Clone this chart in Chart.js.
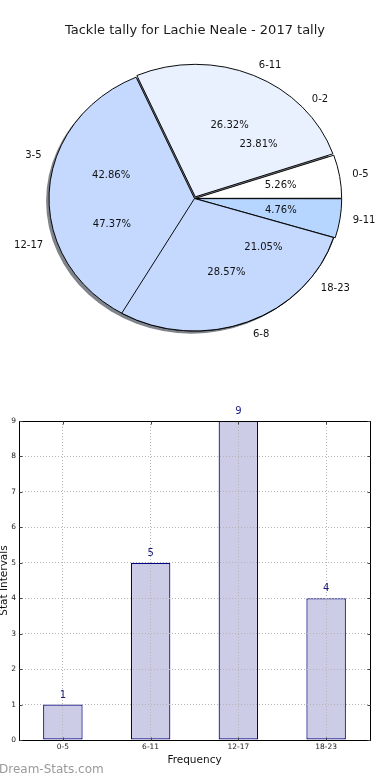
<!DOCTYPE html>
<html>
<head>
<meta charset="utf-8">
<script src="https://cdn.jsdelivr.net/npm/chart.js@4.4.1/dist/chart.umd.min.js"></script>
<style>
html,body{margin:0;padding:0;background:#fff;}
body{width:390px;height:780px;position:relative;overflow:hidden;font-family:"DejaVu Sans",sans-serif;}
canvas{position:absolute;left:0;}
#pie1,#pie2{top:0;}
#bar{top:400px;}
#title{position:absolute;left:0;top:21px;width:390px;text-align:center;font-size:13px;color:#1a1a1a;line-height:18px;}
#wm{position:absolute;left:-1px;top:762px;font-size:12px;color:#9a9a9a;line-height:14px;white-space:nowrap;}
</style>
</head>
<body>
<canvas id="pie1" width="390" height="400"></canvas>
<canvas id="pie2" width="390" height="400"></canvas>
<canvas id="bar" width="390" height="380"></canvas>
<div id="title">Tackle tally for Lachie Neale - 2017 tally</div>
<div id="wm">Dream-Stats.com</div>
<script>
// ---- data ----
const tallyCategories = ['0-5', '6-11', '12-17', '18-23'];
const tallyValues = [1, 5, 9, 4];
const pairCategories = ['0-2', '3-5', '6-8', '9-11'];
const pairValues = [5, 9, 6, 1];
const yTickValues = [0, 1, 2, 3, 4, 5, 6, 7, 8, 9];

// ---- styles ----
const FONT = '"DejaVu Sans"';
const tallyColors = ['#ffffff', '#e9f1ff', '#c5d9ff', '#c5d9ff'];
const pairColors = ['rgba(0,0,0,0)', 'rgba(0,0,0,0)', '#c5d9ff', '#b6d5ff'];
const tallyBorders = [1, 1, 1, 1];
const pairBorders = [0, 0, 1, 1];
const tallyOffsets = [4, 8, 0, 0];
const pairOffsets = [0, 0, 0, 4];
const SQUASH = 132.5 / 145.5;
const PIE_R = 145.5;

function drawPieLabels(ctx, meta, rl, rv, total) {
  ctx.save();
  ctx.font = '10px ' + FONT;
  ctx.fillStyle = '#111';
  ctx.textBaseline = 'middle';
  meta.data.forEach((arc, i) => {
    const mid = (arc.startAngle + arc.endAngle) / 2;
    const R = arc.outerRadius;
    const c = Math.cos(mid), s = Math.sin(mid);
    ctx.textAlign = c > 0 ? 'left' : 'right';
    ctx.fillText(rl[i], arc.x + 1.1 * R * c, arc.y + 1.1 * R * s * SQUASH);
    ctx.textAlign = 'center';
    ctx.fillText((rv[i] / total * 100).toFixed(2) + '%', arc.x + 0.6 * R * c, arc.y + 0.6 * R * s * SQUASH);
  });
  ctx.restore();
}

const pieLabelSets = [];

function makePie(id, labels, values, colors, borders, offsets, withShadow, drawAllLabels) {
  const rl = labels.slice().reverse();
  const rv = values.slice().reverse();
  const rc = colors.slice().reverse();
  const rb = borders.slice().reverse();
  const ro = offsets.slice().reverse();
  const total = values.reduce((a, b) => a + b, 0);
  const entry = { chart: null, rl, rv, total };
  pieLabelSets.push(entry);
  const plugin = {
    id: 'ellipse_' + id,
    beforeDatasetsDraw(chart) {
      const ctx = chart.ctx;
      const el = chart.getDatasetMeta(0).data[0];
      const cx = el.x, cy = el.y, R = el.outerRadius;
      ctx.save();
      ctx.translate(cx, cy);
      ctx.scale(1, SQUASH);
      ctx.translate(-cx, -cy);
      if (withShadow) {
        ctx.beginPath();
        ctx.arc(cx - 2.9, cy + 2.9, R, 0, Math.PI * 2);
        ctx.fillStyle = 'rgba(59,65,77,0.65)';
        ctx.fill();
      }
    },
    afterDatasetsDraw(chart) {
      chart.ctx.restore();
      if (drawAllLabels) {
        pieLabelSets.forEach(e => {
          const c = e.chart || chart;
          drawPieLabels(chart.ctx, c.getDatasetMeta(0), e.rl, e.rv, e.total);
        });
      }
    }
  };
  entry.chart = new Chart(document.getElementById(id), {
    type: 'pie',
    data: {
      labels: rl,
      datasets: [{
        data: rv,
        backgroundColor: rc,
        borderColor: '#000000',
        borderWidth: rb,
        offset: ro
      }]
    },
    options: {
      responsive: false,
      animation: false,
      events: [],
      rotation: 90,
      radius: PIE_R,
      layout: { padding: { left: 0, right: 1, top: 0, bottom: 3 } },
      plugins: { legend: { display: false }, tooltip: { enabled: false }, title: { display: false } }
    },
    plugins: [plugin]
  });
  return entry.chart;
}

makePie('pie1', tallyCategories, tallyValues, tallyColors, tallyBorders, tallyOffsets, true, false);
makePie('pie2', pairCategories, pairValues, pairColors, pairBorders, pairOffsets, false, true);

// ---- bar chart ----
const barExtras = {
  id: 'barExtras',
  afterDraw(chart) {
    const { ctx, chartArea: a } = chart;
    const xs = chart.scales.x, ys = chart.scales.y;
    ctx.save();
    ctx.strokeStyle = '#000';
    ctx.lineWidth = 1;
    const L = Math.round(a.left) + 0.5, R = Math.round(a.right) + 0.5;
    const T = Math.round(a.top) + 0.5, B = Math.round(a.bottom) + 0.5;
    ctx.strokeRect(L, T, R - L, B - T);
    // inward tick marks
    ctx.strokeStyle = '#444';
    ctx.beginPath();
    yTickValues.forEach(v => {
      const y = Math.round(ys.getPixelForValue(v)) + 0.5;
      ctx.moveTo(L, y); ctx.lineTo(L + 3, y);
      ctx.moveTo(R, y); ctx.lineTo(R - 3, y);
    });
    tallyCategories.forEach((c, i) => {
      const x = Math.round(xs.getPixelForValue(i)) + 0.5;
      ctx.moveTo(x, B); ctx.lineTo(x, B - 3);
      ctx.moveTo(x, T); ctx.lineTo(x, T + 3);
    });
    ctx.stroke();
    // value labels
    const meta = chart.getDatasetMeta(0);
    ctx.font = '10px ' + FONT;
    ctx.fillStyle = '#1a1a80';
    ctx.textAlign = 'center';
    ctx.textBaseline = 'middle';
    meta.data.forEach((bar, i) => {
      ctx.fillText(String(tallyValues[i]), bar.x, bar.y - 9.5);
    });
    ctx.restore();
  }
};

new Chart(document.getElementById('bar'), {
  type: 'bar',
  data: {
    labels: tallyCategories,
    datasets: [{
      data: tallyValues,
      backgroundColor: '#ccccE6',
      borderColor: '#000080',
      borderWidth: 1.2,
      borderSkipped: false,
      barPercentage: 0.45,
      categoryPercentage: 1.0
    }]
  },
  options: {
    responsive: false,
    animation: false,
    events: [],
    layout: { padding: { left: 0, right: 20, top: 21, bottom: 0 } },
    plugins: { legend: { display: false }, tooltip: { enabled: false } },
    scales: {
      x: {
        offset: true,
        grid: { display: true, offset: false, color: '#b4b4b4', lineWidth: 1, drawTicks: false, z: 1 },
        border: { display: false, dash: [1, 2] },
        ticks: { color: '#222', font: { family: FONT, size: 7.5 }, padding: 3, maxRotation: 0, autoSkip: false },
        title: { display: true, text: 'Frequency', color: '#111', font: { family: FONT, size: 10.5 }, padding: { top: 0, bottom: 13 } },
        afterFit(scale) { scale.height = 40; }
      },
      y: {
        min: 0,
        max: 9,
        afterBuildTicks(scale) { scale.ticks = yTickValues.map(v => ({ value: v })); },
        grid: { display: true, color: '#b4b4b4', lineWidth: 1, drawTicks: false, z: 1 },
        border: { display: false, dash: [1, 2] },
        ticks: { color: '#222', font: { family: FONT, size: 7.5 }, padding: 3 },
        title: { display: true, text: 'Stat Intervals', color: '#111', font: { family: FONT, size: 10.5, lineHeight: 0.8 }, padding: { top: 0, bottom: 0 } },
        afterFit(scale) { scale.width = 19; }
      }
    }
  },
  plugins: [barExtras]
});
</script>
</body>
</html>
